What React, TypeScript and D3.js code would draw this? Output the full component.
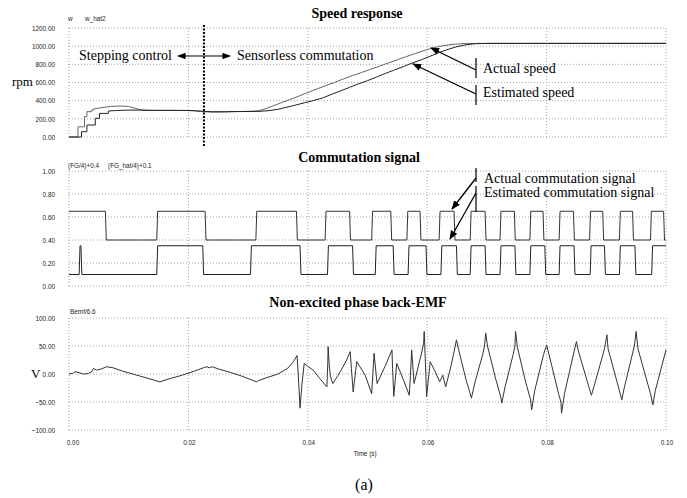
import { useMemo } from 'react';
import * as d3 from 'd3';

const WIDTH = 687;
const HEIGHT = 498;
const X_RANGE = [69, 666];

// panels: pixel top / bottom of each plot area
const SPEED_BOX = { top: 28, bottom: 137 };
const COMM_BOX = { top: 171, bottom: 286 };
const EMF_BOX = { top: 318, bottom: 430 };

const timeTicks = [0, 0.02, 0.04, 0.06, 0.08, 0.1];
const speedTicks = [0, 200, 400, 600, 800, 1000, 1200];
const commTicks = [0, 0.2, 0.4, 0.6, 0.8, 1.0];
const emfTicks = [-100, -50, 0, 50, 100];

// [time ms, rpm]
const actualSpeed = [
  [0, 0], [1.5, 0], [1.5, 112], [2.6, 112], [2.6, 224], [3.0, 224], [3.0, 279], [3.8, 279],
  [3.8, 297], [4.1, 297], [4.1, 308], [5, 318], [6, 328], [7, 336], [8, 340], [9, 341], [10, 336],
  [11, 318], [12, 300], [13, 292], [15, 292], [17, 293], [19, 292], [21, 290], [22.5, 278],
  [24, 274], [26, 276], [28, 280], [30, 282], [31.5, 286], [32.5, 302], [34, 338], [35.5, 376],
  [37, 413], [38.5, 450], [40, 490], [41.5, 528], [43, 565], [44.5, 602], [46, 640], [47.5, 676],
  [49, 710], [50.5, 745], [52, 780], [53.5, 815], [55, 850], [56.5, 885], [58, 920], [59.5, 952],
  [61, 982], [62.5, 1003], [64, 1018], [66, 1028], [70, 1031], [80, 1030], [90, 1032], [100, 1031],
];

const estimatedSpeed = [
  [0, 0], [2.1, 0], [2.1, 58], [3.0, 58], [3.0, 132], [4.4, 132], [4.4, 206], [5.1, 206],
  [5.1, 260], [6.6, 260], [6.6, 286], [8, 292], [10, 296], [12, 296], [14, 294], [16, 293],
  [18, 293], [20, 292], [22, 285], [24, 278], [26, 278], [28, 280], [30, 281], [32, 283],
  [33.5, 290], [35, 305], [36.5, 328], [38, 352], [39.5, 378], [41, 402], [42.5, 430], [44, 470],
  [45.5, 508], [47, 547], [48.5, 585], [50, 620], [51.5, 660], [53, 700], [54.5, 738], [56, 775],
  [57.5, 815], [59, 850], [60.5, 890], [62, 930], [63.5, 965], [65, 995], [66.5, 1015], [68, 1027],
  [70, 1030], [80, 1031], [90, 1030], [100, 1031],
];

// commutation signal edges (ms); FG starts high, FG_hat starts low
const fgEdges = [
  6.1, 14.7, 22.8, 31.3, 38.1, 42.9, 47.0, 50.7, 53.9, 56.6, 58.8, 62.0, 64.5, 67.2, 69.7, 72.2,
  74.6, 77.2, 79.4, 82.1, 84.5, 87.2, 89.4, 92.2, 94.4, 97.4, 99.6,
];
const fgHatEdges = [
  1.7, 2.0, 14.7, 22.4, 30.4, 38.7, 43.3, 47.5, 51.3, 54.3, 56.8, 59.8, 62.3, 64.9, 67.2, 69.7,
  72.2, 74.7, 77.2, 79.7, 82.1, 84.6, 87.3, 89.7, 92.2, 94.8, 97.6,
];

// [time ms, volts]
const bemf = [
  [0, 0], [0.6, 1], [1.0, 4], [1.5, 3], [2.4, 0], [3.2, 1], [3.8, 4], [4.1, 10], [4.6, 7], [5.4, 9],
  [6.3, 13], [7.4, 11], [9, 5], [11, -1], [13, -7], [15.2, -14], [17, -8], [19, -2], [21, 5],
  [22.5, 11], [23.1, 13], [23.5, 11], [24, 13], [25, 9], [27, 3], [29, -4], [31.4, -14], [31.7, -12],
  [33, -7], [35, 0], [36.6, 10], [37.6, 22], [38.2, 33], [38.4, 0], [38.7, -61], [39.0, -20],
  [39.4, 19], [40.2, 12], [40.9, 7], [42, -8], [43.2, -23], [43.35, 20], [43.4, 49], [43.6, 15],
  [43.8, -5], [44.2, -17], [45.5, 5], [46.5, 25], [47.1, 40], [47.3, 10], [47.6, -32], [48.2, 22],
  [49.6, -2], [50.7, -35], [50.9, 0], [51.1, 37], [51.6, -17], [53, 15], [54.1, 43], [54.2, 10],
  [54.4, -40], [54.9, 19], [56, -10], [57.0, -38], [57.2, 0], [57.4, 43], [57.8, -17], [59, 35],
  [59.4, 55], [59.5, 76], [59.7, 20], [59.9, -40], [60.5, 22], [61.3, 5], [62.1, -14], [62.6, -2],
  [63.1, -23], [64, 15], [64.6, 45], [64.9, 61], [65.3, 42], [66.5, -10], [67.2, -35], [67.4, -43],
  [68, -15], [69.3, 35], [69.6, 50], [69.8, 73], [70.1, 50], [71.5, -10], [72.3, -40], [72.5, -52],
  [73, -25], [74.4, 35], [74.7, 50], [74.8, 76], [75.1, 48], [76.5, -15], [77.3, -45], [77.5, -64],
  [78, -30], [79.5, 35], [80, 52], [80.4, 35], [82, -35], [82.4, -50], [82.5, -70], [83, -35],
  [84.6, 40], [85, 58], [85.3, 42], [87, -20], [87.5, -38], [88, -20], [89.7, 45], [90.1, 70],
  [90.3, 45], [92.2, -30], [92.6, -46], [93, -25], [94.7, 50], [95, 76], [95.3, 45], [97.4, -35],
  [97.8, -55], [98.2, -30], [100, 43],
];

const SANS = "'Liberation Sans', Arial, sans-serif";
const SERIF = "'Liberation Serif', 'Times New Roman', serif";
const GRID = '#8a8a8a';
const TICK_FILL = '#222';

// turn edge list into a square wave (with a short ramp on each edge)
const squareWave = (edges: number[], startHigh: boolean) => {
  const pts: [number, number][] = [[0, startHigh ? 1 : 0]];
  let level = startHigh ? 1 : 0;
  edges.forEach((e) => {
    pts.push([e, level]);
    level = 1 - level;
    pts.push([Math.min(e + 0.15, 100), level]);
  });
  pts.push([100, level]);
  return pts;
};

// narrow sans text (the scope font is condensed)
const NarrowText = ({ x, y, anchor = 'start', dy = '0.35em', children }: { x: number; y: number; anchor?: string; dy?: string; children: string }) => (
  <text
    transform={`translate(${x},${y}) scale(0.8,1)`}
    dy={dy}
    textAnchor={anchor}
    fontSize={8}
    fontFamily={SANS}
    fill={TICK_FILL}
  >
    {children}
  </text>
);

type PanelProps = {
  box: { top: number; bottom: number };
  yScale: d3.ScaleLinear<number, number>;
  ticks: number[];
};

const Panel = ({ box, yScale, ticks }: PanelProps) => {
  const [x0, x1] = X_RANGE;
  return (
    <g>
      {ticks.map((t) => (
        <g key={t}>
          <line x1={x0} x2={x1} y1={yScale(t)} y2={yScale(t)} stroke={GRID} strokeWidth={0.8} strokeDasharray="1,2" />
          <NarrowText x={55} y={yScale(t)} anchor="end">{d3.format('.2f')(t)}</NarrowText>
        </g>
      ))}
      {timeTicks.map((t) => (
        <line key={t} x1={xScale(t)} x2={xScale(t)} y1={box.top} y2={box.bottom} stroke={GRID} strokeWidth={0.8} strokeDasharray="1,2" />
      ))}
    </g>
  );
};

const xScale = d3.scaleLinear().domain([0, 0.1]).range(X_RANGE);

export default function App() {
  const ySpeed = useMemo(() => d3.scaleLinear().domain([0, 1200]).range([SPEED_BOX.bottom, SPEED_BOX.top]), []);
  const yComm = useMemo(() => d3.scaleLinear().domain([0, 1]).range([COMM_BOX.bottom, COMM_BOX.top]), []);
  const yEmf = useMemo(() => d3.scaleLinear().domain([-100, 100]).range([EMF_BOX.bottom, EMF_BOX.top]), []);

  const speedLine = d3
    .line<number[]>()
    .x((d) => xScale(d[0] / 1000))
    .y((d) => ySpeed(d[1]));
  const commLine = (offset: number) =>
    d3
      .line<number[]>()
      .x((d) => xScale(d[0] / 1000))
      .y((d) => yComm(d[1] / 4 + offset));
  const emfLine = d3
    .line<number[]>()
    .x((d) => xScale(d[0] / 1000))
    .y((d) => yEmf(d[1]));

  const sepX = xScale(0.0226);

  return (
    <svg width={WIDTH} height={HEIGHT} style={{ position: 'absolute', left: 0, top: 0, background: '#fff' }}>
      <defs>
        <marker id="arr" viewBox="0 0 10 10" refX={9} refY={5} markerWidth={7} markerHeight={7} orient="auto-start-reverse">
          <path d="M0,1 L10,5 L0,9 z" fill="#000" />
        </marker>
      </defs>

      {/* Speed response */}
      <text x={357} y={18} textAnchor="middle" fontSize={14} fontWeight="bold" fontFamily={SERIF}>Speed response</text>
      <NarrowText x={68} y={18}>w</NarrowText>
      <NarrowText x={85} y={18}>w_hat2</NarrowText>
      <text x={12} y={86} fontSize={13} fontFamily={SERIF}>rpm</text>
      <Panel box={SPEED_BOX} yScale={ySpeed} ticks={speedTicks} />
      <path d={speedLine(actualSpeed) || ''} fill="none" stroke="#666" strokeWidth={1} />
      <path d={speedLine(estimatedSpeed) || ''} fill="none" stroke="#222" strokeWidth={1} />
      <line x1={sepX} x2={sepX} y1={25} y2={146} stroke="#000" strokeWidth={2} strokeDasharray="2,1.5" />
      <text x={79} y={60} fontSize={14} fontFamily={SERIF}>Stepping control</text>
      <line x1={178} x2={230} y1={56} y2={56} stroke="#000" strokeWidth={1.2} markerStart="url(#arr)" markerEnd="url(#arr)" />
      <text x={237} y={60} fontSize={14} fontFamily={SERIF}>Sensorless commutation</text>
      <line x1={476} x2={476} y1={58} y2={78} stroke="#000" strokeWidth={1.2} />
      <line x1={476} x2={476} y1={85} y2={105} stroke="#000" strokeWidth={1.2} />
      <line x1={476} x2={431} y1={70} y2={48} stroke="#000" strokeWidth={1.3} markerEnd="url(#arr)" />
      <line x1={476} x2={413} y1={94} y2={64} stroke="#000" strokeWidth={1.3} markerEnd="url(#arr)" />
      <text x={483} y={73} fontSize={14} fontFamily={SERIF}>Actual speed</text>
      <text x={483} y={97} fontSize={14} fontFamily={SERIF}>Estimated speed</text>

      {/* Commutation signal */}
      <text x={359} y={162} textAnchor="middle" fontSize={14} fontWeight="bold" fontFamily={SERIF}>Commutation signal</text>
      <NarrowText x={68} y={165}>(FG/4)+0.4</NarrowText>
      <NarrowText x={108} y={165}>(FG_hat/4)+0.1</NarrowText>
      <Panel box={COMM_BOX} yScale={yComm} ticks={commTicks} />
      <path d={commLine(0.4)(squareWave(fgEdges, true)) || ''} fill="none" stroke="#333" strokeWidth={1} />
      <path d={commLine(0.1)(squareWave(fgHatEdges, false)) || ''} fill="none" stroke="#222" strokeWidth={1} />
      <line x1={476} x2={476} y1={168} y2={182} stroke="#000" strokeWidth={1.2} />
      <line x1={476} x2={476} y1={186} y2={212} stroke="#000" strokeWidth={1.2} />
      <line x1={476} x2={452} y1={178} y2={209} stroke="#000" strokeWidth={1.3} markerEnd="url(#arr)" />
      <line x1={476} x2={450} y1={193} y2={239} stroke="#000" strokeWidth={1.3} markerEnd="url(#arr)" />
      <text x={484} y={183} fontSize={14} fontFamily={SERIF}>Actual commutation signal</text>
      <text x={484} y={197} fontSize={14} fontFamily={SERIF}>Estimated commutation signal</text>

      {/* Back-EMF */}
      <text x={358} y={307} textAnchor="middle" fontSize={14} fontWeight="bold" fontFamily={SERIF}>Non-excited phase back-EMF</text>
      <NarrowText x={70} y={311}>Bemf/6.6</NarrowText>
      <text x={31} y={378} fontSize={13} fontFamily={SERIF}>V</text>
      <Panel box={EMF_BOX} yScale={yEmf} ticks={emfTicks} />
      <path d={emfLine(bemf) || ''} fill="none" stroke="#333" strokeWidth={1} />

      {timeTicks.map((t) => (
        <NarrowText key={t} x={xScale(t) + (t === 0 ? 4 : 1)} y={442} anchor="middle">
          {d3.format('.2f')(t)}
        </NarrowText>
      ))}
      <NarrowText x={365} y={453} anchor="middle">Time (s)</NarrowText>
      <text x={364} y={490} textAnchor="middle" fontSize={16} fontFamily={SERIF}>(a)</text>
    </svg>
  );
}
